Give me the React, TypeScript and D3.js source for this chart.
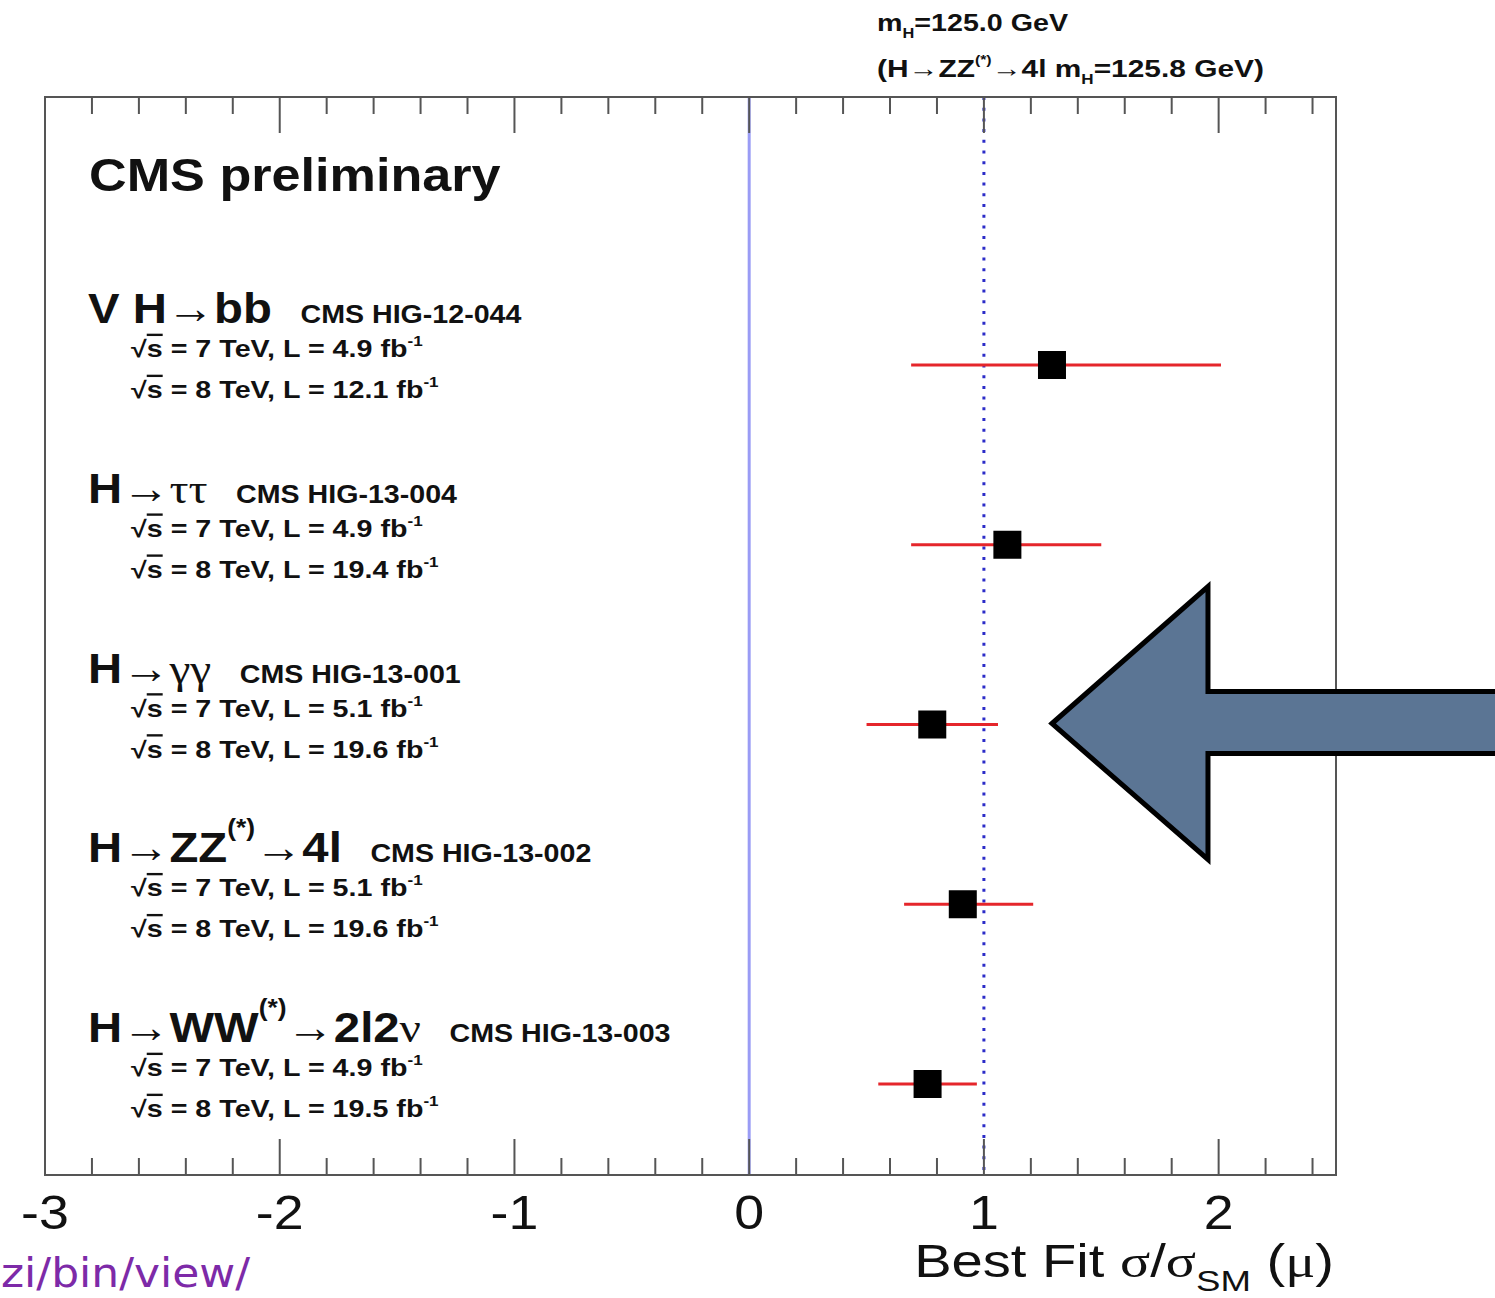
import React from 'react';
import * as d3 from 'd3';

// channel results (signal strength mu, asymmetric 1 sigma errors)
const channels = ['VH→bb', 'H→ττ', 'H→γγ', 'H→ZZ→4l', 'H→WW→2l2ν'];
const bestFit = [1.29, 1.10, 0.78, 0.91, 0.76];
const errDown = [0.60, 0.41, 0.28, 0.25, 0.21];
const errUp = [0.72, 0.40, 0.28, 0.30, 0.21];
const references = ['CMS HIG-12-044', 'CMS HIG-13-004', 'CMS HIG-13-001', 'CMS HIG-13-002', 'CMS HIG-13-003'];
const lumi7 = ['4.9', '4.9', '5.1', '5.1', '4.9'];
const lumi8 = ['12.1', '19.4', '19.6', '19.6', '19.5'];

const xDomain = [-3, 2.5];
const majorTicks = [-3, -2, -1, 0, 1, 2];
const smValue = 1;

const W = 1495;
const H = 1298;
const frame = { left: 45, right: 1336, top: 97, bottom: 1175 };

const sans = '"Liberation Sans", Arial, Helvetica, sans-serif';
const serif = '"Liberation Serif", "Times New Roman", serif';

// the original text is a bit wider than Liberation Sans, so stretch horizontally
function Wide({ x, y, sx, children }: { x: number; y: number; sx: number; children: React.ReactNode }) {
  return <g transform={`translate(${x},${y}) scale(${sx},1)`}>{children}</g>;
}

function Title({ name }: { name: string }) {
  const arrow = (k: string) => (
    <tspan key={k} fontFamily={serif} fontWeight="normal">→</tspan>
  );
  const sup = (k: string) => (
    <tspan key={k} fontSize={24} dy={-26}>(*)</tspan>
  );
  if (name === 'VH→bb') return <>{'V H'}{arrow('a')}<tspan>bb</tspan></>;
  if (name === 'H→ττ') return <>{'H'}{arrow('a')}<tspan fontFamily={serif} fontWeight="normal">ττ</tspan></>;
  if (name === 'H→γγ') return <>{'H'}{arrow('a')}<tspan fontFamily={serif} fontWeight="normal">γγ</tspan></>;
  if (name === 'H→ZZ→4l')
    return <>{'H'}{arrow('a')}<tspan>ZZ</tspan>{sup('s')}<tspan dy={26} fontFamily={serif} fontWeight="normal">→</tspan><tspan>4l</tspan></>;
  return <>{'H'}{arrow('a')}<tspan>WW</tspan>{sup('s')}<tspan dy={26} fontFamily={serif} fontWeight="normal">→</tspan><tspan>2l2</tspan><tspan fontFamily={serif} fontWeight="normal">ν</tspan></>;
}

function Lumi({ x, y, e, l }: { x: number; y: number; e: string; l: string }) {
  return (
    <Wide x={x} y={y} sx={1.22}>
      <text x={0} y={0} fontFamily={sans} fontWeight="bold" fontSize={23.5} fill="#111">
        <tspan>√</tspan>
        <tspan textDecoration="overline">s</tspan>
        <tspan>{` = ${e} TeV, L = ${l} fb`}</tspan>
        <tspan fontSize={14} dy={-11}>-1</tspan>
      </text>
    </Wide>
  );
}

export default function App() {
  const x = d3.scaleLinear().domain(xDomain).range([frame.left, frame.right]);
  const y = d3.scalePoint().domain(channels).range([365, 1084]);

  const minorTicks = d3.range(-15, 13).map((i) => i / 5).filter((v) => !Number.isInteger(v));

  const data = channels.map((c, i) => ({
    name: c,
    mu: bestFit[i],
    lo: bestFit[i] - errDown[i],
    hi: bestFit[i] + errUp[i],
    ref: references[i],
    l7: lumi7[i],
    l8: lumi8[i],
  }));

  const tickStroke = '#555';
  const sq = 28;

  // annotation arrow pointing at the H->gammagamma result
  const tipX = x(1.29);
  const tipY = y('H→γγ') as number;
  const arrowPts = [
    [tipX, tipY - 1],
    [tipX + 156, tipY - 138],
    [tipX + 156, tipY - 33],
    [W + 20, tipY - 33],
    [W + 20, tipY + 29],
    [tipX + 156, tipY + 29],
    [tipX + 156, tipY + 135],
  ];

  return (
    <svg width={W} height={H} style={{ position: 'absolute', left: 0, top: 0, background: '#fff' }}>
      <rect x={0} y={0} width={W} height={H} fill="#fff" />

      {/* header text */}
      <Wide x={877} y={31} sx={1.17}>
        <text x={0} y={0} fontFamily={sans} fontWeight="bold" fontSize={24.5} fill="#111">
          m<tspan fontSize={14} dy={7}>H</tspan>
          <tspan dy={-7}>=125.0 GeV</tspan>
        </text>
      </Wide>
      <Wide x={877} y={77} sx={1.22}>
        <text x={0} y={0} fontFamily={sans} fontWeight="bold" fontSize={24.5} fill="#111">
          (H<tspan fontFamily={serif} fontWeight="normal">→</tspan>ZZ
          <tspan fontSize={13} dy={-13}>(*)</tspan>
          <tspan dy={13} fontFamily={serif} fontWeight="normal">→</tspan>
          <tspan>4l m</tspan>
          <tspan fontSize={14} dy={7}>H</tspan>
          <tspan dy={-7}>=125.8 GeV)</tspan>
        </text>
      </Wide>

      {/* SM reference lines */}
      <line x1={x(0)} x2={x(0)} y1={frame.top} y2={frame.bottom} stroke="#9a9cf5" strokeWidth={3} />
      <line
        x1={x(smValue)}
        x2={x(smValue)}
        y1={frame.top}
        y2={frame.bottom}
        stroke="#2c2cc8"
        strokeWidth={3}
        strokeDasharray="3 7.7"
      />

      {/* ticks */}
      {majorTicks.map((t) => (
        <g key={'M' + t}>
          <line x1={x(t)} x2={x(t)} y1={frame.top} y2={frame.top + 36} stroke={tickStroke} strokeWidth={2} />
          <line x1={x(t)} x2={x(t)} y1={frame.bottom} y2={frame.bottom - 36} stroke={tickStroke} strokeWidth={2} />
          <Wide x={x(t)} y={1229} sx={1.12}>
            <text x={0} y={0} textAnchor="middle" fontFamily={sans} fontSize={48} fill="#111">
              {t}
            </text>
          </Wide>
        </g>
      ))}
      {minorTicks.map((t) => (
        <g key={'m' + t}>
          <line x1={x(t)} x2={x(t)} y1={frame.top} y2={frame.top + 17} stroke={tickStroke} strokeWidth={2} />
          <line x1={x(t)} x2={x(t)} y1={frame.bottom} y2={frame.bottom - 17} stroke={tickStroke} strokeWidth={2} />
        </g>
      ))}

      <rect
        x={frame.left}
        y={frame.top}
        width={frame.right - frame.left}
        height={frame.bottom - frame.top}
        fill="none"
        stroke={tickStroke}
        strokeWidth={2}
      />

      <Wide x={89} y={191} sx={1.11}>
        <text x={0} y={0} fontFamily={sans} fontWeight="bold" fontSize={47} fill="#111">
          CMS preliminary
        </text>
      </Wide>

      {/* channel labels */}
      {data.map((d) => {
        const ty = (y(d.name) as number) - 42;
        return (
          <g key={'lab' + d.name}>
            <Wide x={88} y={ty} sx={1.1}>
              <text x={0} y={0} fontFamily={sans} fontWeight="bold" fontSize={43} fill="#111">
                <Title name={d.name} />
                <tspan dx={26} fontSize={26} fontFamily={sans} fontWeight="bold">
                  {d.ref}
                </tspan>
              </text>
            </Wide>
            <Lumi x={131} y={ty + 34} e="7" l={d.l7} />
            <Lumi x={131} y={ty + 75} e="8" l={d.l8} />
          </g>
        );
      })}

      {/* results */}
      {data.map((d) => {
        const cy = y(d.name) as number;
        return (
          <g key={'pt' + d.name}>
            <line x1={x(d.lo)} x2={x(d.hi)} y1={cy} y2={cy} stroke="#e5262b" strokeWidth={3} />
            <rect x={x(d.mu) - sq / 2} y={cy - sq / 2} width={sq} height={sq} fill="#000" />
          </g>
        );
      })}

      {/* axis title */}
      <Wide x={frame.right - 2} y={1277} sx={1.22}>
        <text x={0} y={0} textAnchor="end" fontFamily={sans} fontSize={46} fill="#111">
          Best Fit <tspan fontFamily={serif}>σ</tspan>/<tspan fontFamily={serif}>σ</tspan>
          <tspan fontSize={30} dy={14}>SM</tspan>
          <tspan dy={-14}> (</tspan>
          <tspan fontFamily={serif}>μ</tspan>)
        </text>
      </Wide>

      {/* overlay annotation */}
      <polygon
        points={arrowPts.map((p) => p.join(',')).join(' ')}
        fill="#5b7594"
        stroke="#000"
        strokeWidth={5}
        strokeLinejoin="miter"
      />

      <Wide x={1} y={1287} sx={1.1}>
        <text x={0} y={0} fontFamily='"Comic Sans MS", "DejaVu Sans", sans-serif' fontSize={40} fill="#7d2aa8">
          zi/bin/view/
        </text>
      </Wide>
    </svg>
  );
}
